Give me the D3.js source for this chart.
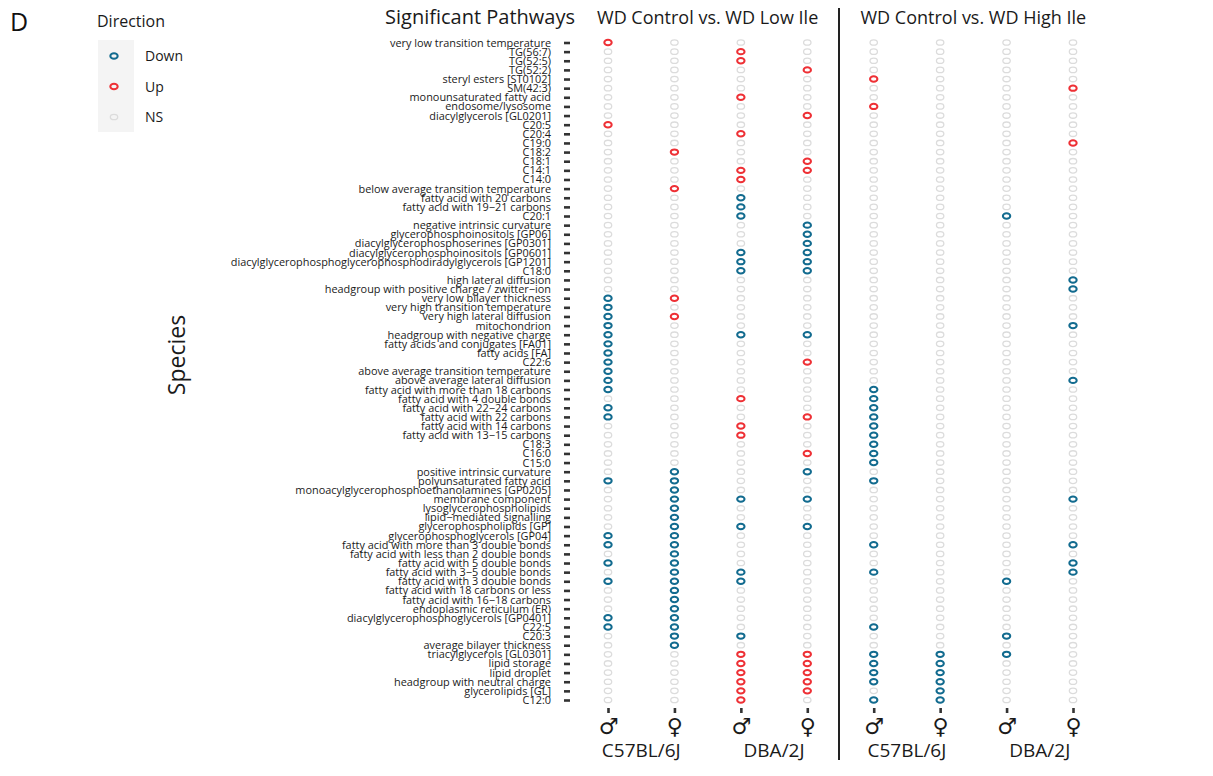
<!DOCTYPE html>
<html>
<head>
<meta charset="utf-8">
<script src="https://cdn.jsdelivr.net/npm/d3@7"></script>
<style>
  body { margin: 0; background: #fff; }
  svg { font-family: "Open Sans", "Liberation Sans", Arial, sans-serif; }
</style>
</head>
<body>
<div id="chart"></div>
<script>
// pathways, top to bottom
var pathways = [
  "very low transition temperature", "TG(56:7)", "TG(52:5)", "TG(52:2)",
  "steryl esters [ST0102]", "SM(42:3)", "monounsaturated fatty acid", "endosome/lysosome",
  "diacylglycerols [GL0201]", "C20:5", "C20:4", "C19:0", "C18:2", "C18:1", "C14:1", "C14:0",
  "below average transition temperature", "fatty acid with 20 carbons",
  "fatty acid with 19\u221221 carbons", "C20:1", "negative intrinsic curvature",
  "glycerophosphoinositols [GP06]", "diacylglycerophosphoserines [GP0301]",
  "diacylglycerophosphoinositols [GP0601]",
  "diacylglycerophosphoglycerophosphodiradylglycerols [GP1201]", "C18:0",
  "high lateral diffusion", "headgroup with positive charge / zwitter\u2212ion",
  "very low bilayer thickness", "very high transition temperature", "very high lateral diffusion",
  "mitochondrion", "headgroup with negative charge", "fatty acids and conjugates [FA01]",
  "fatty acids [FA]", "C22:6", "above average transition temperature",
  "above average lateral diffusion", "fatty acid with more than 18 carbons",
  "fatty acid with 4 double bonds", "fatty acid with 22\u221224 carbons",
  "fatty acid with 22 carbons", "fatty acid with 14 carbons", "fatty acid with 13\u221215 carbons",
  "C18:3", "C16:0", "C15:0", "positive intrinsic curvature", "polyunsaturated fatty acid",
  "monoacylglycerophosphoethanolamines [GP0205]", "membrane component",
  "lysoglycerophospholipids", "lipid\u2212mediated signalling", "glycerophospholipids [GP]",
  "glycerophosphoglycerols [GP04]", "fatty acid with more than 3 double bonds",
  "fatty acid with less than 2 double bonds", "fatty acid with 5 double bonds",
  "fatty acid with 3\u22125 double bonds", "fatty acid with 3 double bonds",
  "fatty acid with 18 carbons or less", "fatty acid with 16\u221218 carbons",
  "endoplasmic reticulum (ER)", "diacylglycerophosphoglycerols [GP0401]", "C22:5", "C20:3",
  "average bilayer thickness", "triacylglycerols [GL0301]", "lipid storage", "lipid droplet",
  "headgroup with neutral charge", "glycerolipids [GL]", "C12:0"
];

// one string per pathway, one letter per column: U = Up, D = Down, - = NS
var directions = [
  "U-------", "--U-----", "--U-----", "---U----", "----U---", "-------U", "--U-----", "----U---",
  "---U----", "U-------", "--U-----", "-------U", "-U------", "---U----", "--UU----", "--U-----",
  "-U------", "--D-----", "--D-----", "--D---D-", "---D----", "---D----", "---D----", "--DD----",
  "--DD----", "--DD----", "-------D", "-------D", "DU------", "D-------", "DU------", "D------D",
  "D-DD----", "D-------", "D-------", "D--U----", "D-------", "D------D", "D---D---", "--U-D---",
  "D---D---", "D--UD---", "--U-D---", "--U-D---", "----D---", "---UD---", "----D---", "-D-D----",
  "DD--D---", "-D------", "-DDD---D", "-D------", "-D------", "-DDD----", "DD------", "DD--D--D",
  "-D------", "DD-----D", "-DD-D--D", "DDD---D-", "-D------", "-D------", "-D------", "DD------",
  "DD--D---", "-DD---D-", "-D------", "--UUDDD-", "--UUDD--", "--UUDD--", "--UUDD--", "--UU-D--",
  "--U-DD--"
];

var columns = ["low_c57_m", "low_c57_f", "low_dba_m", "low_dba_f",
               "high_c57_m", "high_c57_f", "high_dba_m", "high_dba_f"];
var sexes = ["\u2642", "\u2640", "\u2642", "\u2640", "\u2642", "\u2640", "\u2642", "\u2640"];
var strains = ["C57BL/6J", "DBA/2J", "C57BL/6J", "DBA/2J"];
var comparisons = ["WD Control vs. WD Low Ile", "WD Control vs. WD High Ile"];
var levels = ["Down", "Up", "NS"];

var codeToLevel = {"D": "Down", "U": "Up", "-": "NS"};
var color = d3.scaleOrdinal().domain(levels).range(["#126b8f", "#ee3035", "#dcdcdc"]);

var w = 1213, h = 776;
var svg = d3.select("#chart").append("svg").attr("width", w).attr("height", h);

var x = d3.scalePoint().domain(columns).range([608, 1073]);
var y = d3.scalePoint().domain(pathways).range([42.5, 700]);

var cells = [];
pathways.forEach(function(p, i) {
  columns.forEach(function(c, j) {
    cells.push({pathway: p, column: c, dir: codeToLevel[directions[i][j]]});
  });
});

// y axis
var yAxis = d3.axisLeft(y).tickSize(6).tickPadding(13);
var gy = svg.append("g").attr("transform", "translate(570,0)").call(yAxis);
gy.select(".domain").remove();
gy.selectAll(".tick line").attr("stroke", "#333").attr("stroke-width", 2.6);
gy.selectAll(".tick text").attr("font-size", 10.9).attr("fill", "#1a1a1a")
  .attr("font-family", "'Open Sans', sans-serif").attr("dy", "0.32em");

// x axis
var xAxis = d3.axisBottom(x).tickSize(5).tickPadding(5).tickFormat(function(d, i) { return sexes[i]; });
var gx = svg.append("g").attr("transform", "translate(0,708)").call(xAxis);
gx.select(".domain").remove();
gx.selectAll(".tick line").attr("stroke", "#333").attr("stroke-width", 2.6);
gx.selectAll(".tick text").attr("font-size", 22).attr("font-weight", "bold").attr("fill", "#1a1a1a")
  .attr("font-family", "'DejaVu Sans', sans-serif");

// points
svg.append("g").selectAll("ellipse")
  .data(cells)
  .enter()
  .append("ellipse")
  .attr("cx", function(d) { return x(d.column); })
  .attr("cy", function(d) { return y(d.pathway); })
  .attr("rx", 3.7)
  .attr("ry", 2.7)
  .attr("fill", "none")
  .attr("stroke", function(d) { return color(d.dir); })
  .attr("stroke-width", function(d) { return d.dir === "NS" ? 1.3 : 2; });

// divider
svg.append("line").attr("x1", 839).attr("x2", 839).attr("y1", 8).attr("y2", 760)
  .attr("stroke", "#222").attr("stroke-width", 2);

// headers
svg.append("text").attr("x", 575).attr("y", 24).attr("text-anchor", "end")
  .attr("font-size", 20).attr("fill", "#1a1a1a").text("Significant Pathways");
comparisons.forEach(function(c, i) {
  var mid = (x(columns[i * 4]) + x(columns[i * 4 + 3])) / 2;
  svg.append("text").attr("x", mid).attr("y", 24).attr("text-anchor", "middle")
    .attr("font-size", 18).attr("fill", "#1a1a1a").text(c);
});
strains.forEach(function(s, i) {
  var mid = (x(columns[i * 2]) + x(columns[i * 2 + 1])) / 2;
  svg.append("text").attr("x", mid).attr("y", 757).attr("text-anchor", "middle")
    .attr("font-size", 19).attr("fill", "#1a1a1a").text(s);
});

// y title
svg.append("text").attr("transform", "translate(185,355) rotate(-90)")
  .attr("text-anchor", "middle").attr("font-size", 23).attr("fill", "#1a1a1a").text("Species");

// panel letter
svg.append("text").attr("x", 10).attr("y", 31).attr("font-size", 25).attr("fill", "#111").text("D");

// legend
svg.append("text").attr("x", 97).attr("y", 27).attr("font-size", 16).attr("fill", "#1a1a1a").text("Direction");
svg.append("rect").attr("x", 98).attr("y", 40).attr("width", 36).attr("height", 92).attr("fill", "#f4f4f4");
var lg = svg.append("g").selectAll("g").data(levels).enter().append("g")
  .attr("transform", function(d, i) { return "translate(114," + (56 + i * 30.5) + ")"; });
lg.append("ellipse").attr("rx", 3.7).attr("ry", 2.7).attr("fill", "none")
  .attr("stroke", function(d) { return color(d); })
  .attr("stroke-width", function(d) { return d === "NS" ? 1.3 : 2; });
lg.append("text").attr("x", 31).attr("y", 5).attr("font-size", 14).attr("fill", "#1a1a1a")
  .text(function(d) { return d; });
</script>
</body>
</html>
